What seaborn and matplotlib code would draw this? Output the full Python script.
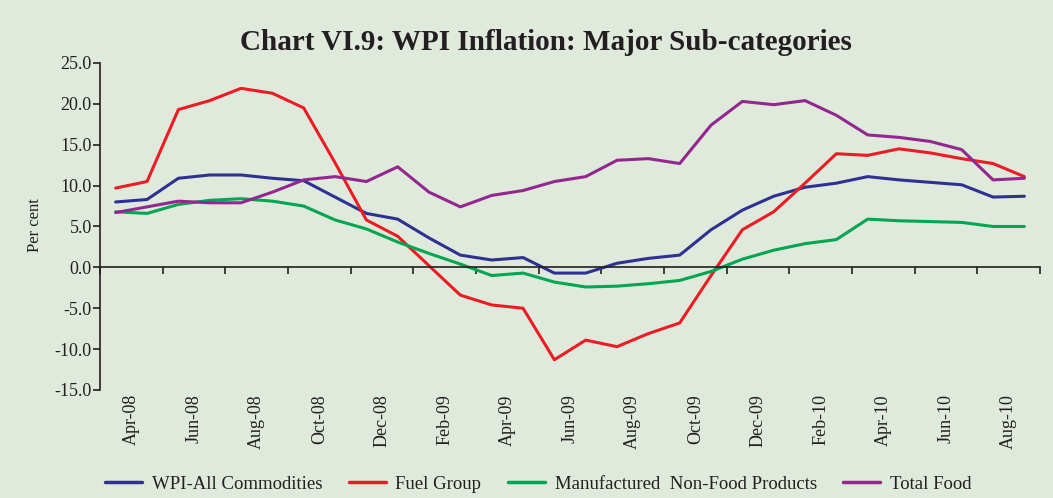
import numpy as np
import pandas as pd
import matplotlib.pyplot as plt
import seaborn as sns

# Monthly categories, Apr-08 .. Sep-10
months = ['Apr-08', 'May-08', 'Jun-08', 'Jul-08', 'Aug-08', 'Sep-08', 'Oct-08', 'Nov-08',
          'Dec-08', 'Jan-09', 'Feb-09', 'Mar-09', 'Apr-09', 'May-09', 'Jun-09', 'Jul-09',
          'Aug-09', 'Sep-09', 'Oct-09', 'Nov-09', 'Dec-09', 'Jan-10', 'Feb-10', 'Mar-10',
          'Apr-10', 'May-10', 'Jun-10', 'Jul-10', 'Aug-10', 'Sep-10']

# Year-on-year inflation, per cent
wpi = [8.0, 8.3, 10.9, 11.3, 11.3, 10.9, 10.6, 8.6, 6.6, 5.9, 3.6, 1.5, 0.9, 1.2, -0.7,
       -0.7, 0.5, 1.1, 1.5, 4.6, 7.0, 8.7, 9.8, 10.3, 11.1, 10.7, 10.4, 10.1, 8.6, 8.7]
fuel = [9.7, 10.5, 19.3, 20.4, 21.9, 21.3, 19.5, 12.8, 5.8, 3.8, 0.2, -3.4, -4.6, -5.0, -11.3,
        -8.9, -9.7, -8.1, -6.8, -1.0, 4.6, 6.8, 10.3, 13.9, 13.7, 14.5, 14.0, 13.3, 12.7, 11.1]
mfg = [6.8, 6.6, 7.7, 8.2, 8.4, 8.1, 7.5, 5.8, 4.7, 3.1, 1.7, 0.4, -1.0, -0.7, -1.8,
       -2.4, -2.3, -2.0, -1.6, -0.5, 1.0, 2.1, 2.9, 3.4, 5.9, 5.7, 5.6, 5.5, 5.0, 5.0]
food = [6.7, 7.4, 8.1, 7.9, 7.9, 9.2, 10.7, 11.1, 10.5, 12.3, 9.2, 7.4, 8.8, 9.4, 10.5,
        11.1, 13.1, 13.3, 12.7, 17.4, 20.3, 19.9, 20.4, 18.6, 16.2, 15.9, 15.4, 14.4, 10.7, 10.9]

series_names = ['WPI-All Commodities', 'Fuel Group', 'Manufactured  Non-Food Products', 'Total Food']
colors = ['#2E3192', '#ED1C24', '#00A651', '#93278F']
bg = '#DFE9DC'
ink = '#231F20'

idx = np.arange(len(months))
df = pd.DataFrame({'pos': idx, series_names[0]: wpi, series_names[1]: fuel,
                   series_names[2]: mfg, series_names[3]: food})
long = df.melt(id_vars='pos', var_name='series', value_name='value')

sns.set_style('ticks', {'axes.facecolor': bg, 'figure.facecolor': bg})
plt.rcParams['font.family'] = ['Liberation Serif', 'DejaVu Serif']
plt.rcParams['axes.unicode_minus'] = False
plt.rcParams['text.color'] = ink
plt.rcParams['xtick.color'] = ink
plt.rcParams['ytick.color'] = ink

fig, ax = plt.subplots(figsize=(10.53, 4.98), dpi=100)
fig.subplots_adjust(left=0.095, right=0.9877, top=0.8735, bottom=0.2169)

sns.lineplot(data=long, x='pos', y='value', hue='series', hue_order=series_names,
             palette=dict(zip(series_names, colors)), linewidth=2.2, sort=False, ax=ax)

handles, labels = ax.get_legend_handles_labels()
ax.get_legend().remove()

# axes look
ax.set_xlim(-0.5, len(months) - 0.5)
ax.set_ylim(-15, 25)
ax.set_yticks(np.arange(-15, 26, 5))
ax.set_yticklabels([f'{v:.1f}' for v in np.arange(-15, 26, 5)])
ax.set_xlabel('')
ax.set_ylabel('')
ax.spines['top'].set_visible(False)
ax.spines['right'].set_visible(False)
ax.spines['bottom'].set_position(('data', 0))
for s in ['left', 'bottom']:
    ax.spines[s].set_linewidth(1.2)
    ax.spines[s].set_color(ink)
ax.set_xticks(np.arange(-0.5, len(months), 2))
ax.tick_params(axis='x', direction='out', length=5, width=1.2, labelbottom=False)
ax.tick_params(axis='y', direction='out', length=5, width=1.2, labelsize=13, pad=1)

# month labels along the bottom edge
sec = ax.secondary_xaxis('bottom')
sec.set_xticks(idx[::2] + 0.5, months[::2])
sec.tick_params(length=0, pad=3, labelsize=13, labelrotation=90)
sec.spines['bottom'].set_visible(False)

fig.text(0.518, 0.915, 'Chart VI.9: WPI Inflation: Major Sub-categories',
         ha='center', va='center', fontsize=21, fontweight='bold', color=ink)
fig.text(0.033, 0.548, 'Per cent', rotation=90, ha='center', va='center', fontsize=12)

leg = fig.legend(handles, labels, loc='center', bbox_to_anchor=(0.511, 0.028), ncol=4,
                 frameon=False, fontsize=13.5, handlelength=2.0, handletextpad=0.5,
                 columnspacing=1.4)
for line in leg.get_lines():
    line.set_linewidth(2.5)

fig.savefig('out.png', dpi=100, facecolor=bg)
